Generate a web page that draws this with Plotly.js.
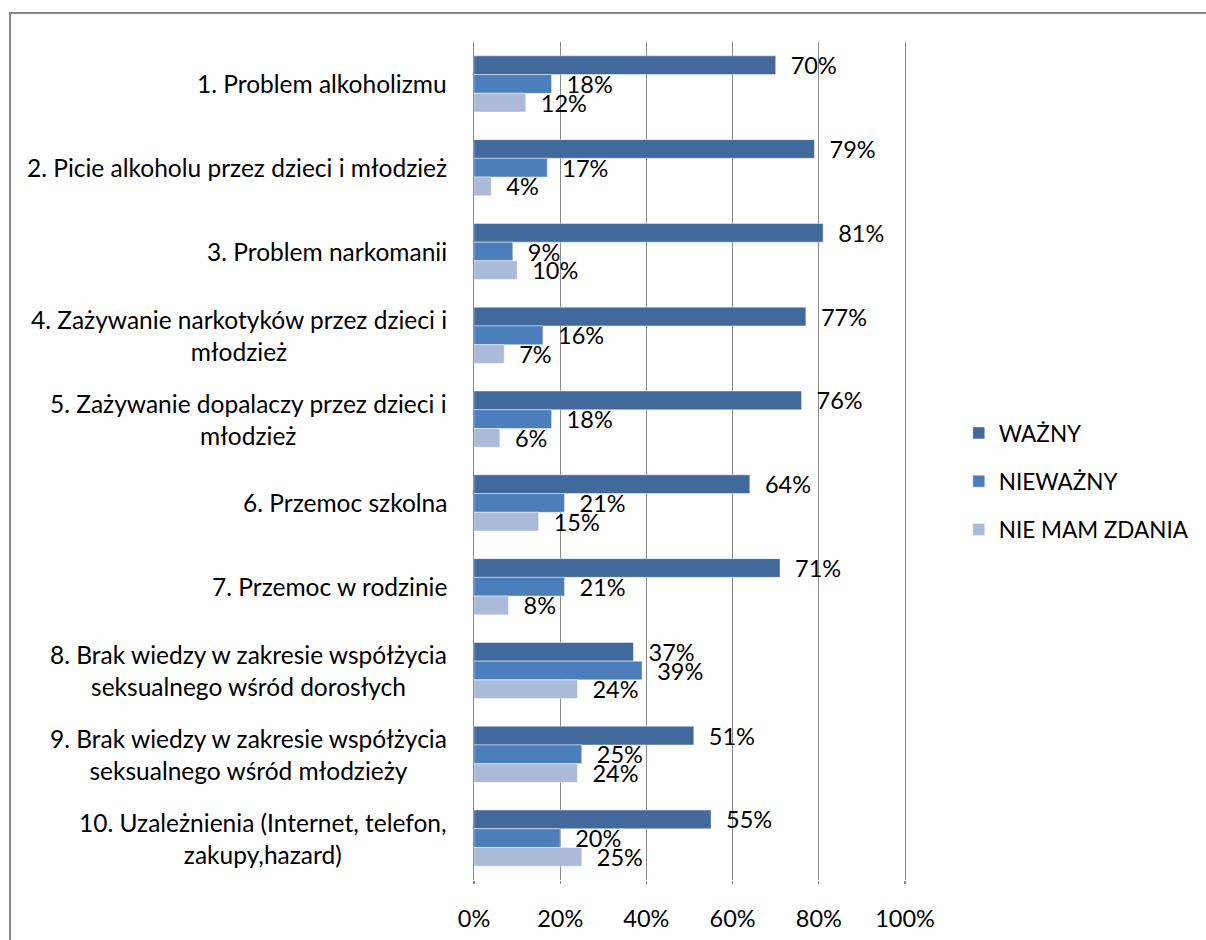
<!DOCTYPE html>
<html>
<head>
<meta charset="utf-8">
<script src="https://cdn.plot.ly/plotly-3.0.1.min.js"></script>
<style>
  html, body { margin: 0; padding: 0; background: #fff; }
  #wrap { position: relative; width: 1206px; height: 940px; overflow: hidden; }
  #frame { position: absolute; left: 9px; top: 12px; width: 1300px; height: 1000px;
           border-left: 2px solid #878787; border-top: 2px solid #878787; }
  #chart { position: absolute; left: 0; top: 0; width: 1206px; height: 940px; }
</style>
</head>
<body>
<div id="wrap"><div id="frame"></div><div id="chart"></div></div>
<script>
const categories = [
  "1. Problem alkoholizmu",
  "2. Picie alkoholu przez dzieci i młodzież",
  "3. Problem narkomanii",
  "4. Zażywanie narkotyków przez dzieci i<br>młodzież",
  "5. Zażywanie dopalaczy przez dzieci i<br>młodzież",
  "6. Przemoc szkolna",
  "7. Przemoc w rodzinie",
  "8. Brak wiedzy w zakresie współżycia<br>seksualnego wśród dorosłych",
  "9. Brak wiedzy w zakresie współżycia<br>seksualnego wśród młodzieży",
  "10. Uzależnienia (Internet, telefon,<br>zakupy,hazard)"
];
const seriesNames = ["WAŻNY", "NIEWAŻNY", "NIE MAM ZDANIA"];
const wazny     = [70, 79, 81, 77, 76, 64, 71, 37, 51, 55];
const niewazny  = [18, 17, 9, 16, 18, 21, 21, 39, 25, 20];
const nieMam    = [12, 4, 10, 7, 6, 15, 8, 24, 24, 25];
const xTickVals = [0, 20, 40, 60, 80, 100];
const xTickText = ["0%", "20%", "40%", "60%", "80%", "100%"];

const colors = ["#41699C", "#4B7EBB", "#AABAD8"];
const FONT = "Lato, 'Open Sans', sans-serif";
const FS = 24.5;
const LFS = 23.5;
const pad = "\u00a0\u00a0";

const yIdx = categories.map((c, i) => i);
const seriesVals = [wazny, niewazny, nieMam];

const traces = seriesVals.map((vals, k) => ({
  type: "bar",
  orientation: "h",
  name: seriesNames[k],
  legendgroup: "g" + k,
  x: vals,
  y: yIdx,
  marker: { color: colors[k], line: { color: "rgba(255,255,255,0.45)", width: 1 } },
  text: vals.map(v => pad + v + "%"),
  textposition: "outside",
  constraintext: "none",
  cliponaxis: false,
  textfont: { family: FONT, size: LFS, color: "#000" },
  hoverinfo: "x+name"
}));

const annotations = categories.map((c, i) => ({
  xref: "paper", yref: "y",
  x: 0, y: i,
  xanchor: "right", yanchor: "middle",
  xshift: -25,
  align: "center",
  showarrow: false,
  text: c,
  font: { family: FONT, size: FS, color: "#000" }
}));

const layout = {
  width: 1206, height: 940,
  margin: { l: 474, r: 301, t: 42, b: 60 },
  paper_bgcolor: "rgba(0,0,0,0)",
  plot_bgcolor: "rgba(0,0,0,0)",
  barmode: "group",
  bargap: 0.33,
  bargroupgap: 0,
  showlegend: true,
  legend: {
    xref: "container", yref: "container",
    x: 0.795, xanchor: "left",
    y: 0.488, yanchor: "middle",
    traceorder: "grouped",
    tracegroupgap: 16,
    font: { family: FONT, size: 22.5, color: "#000" }
  },
  xaxis: {
    range: [0, 100],
    tickvals: xTickVals,
    ticktext: xTickText,
    showgrid: true,
    gridcolor: "#8a8a8a",
    gridwidth: 1.4,
    zeroline: false,
    showline: false,
    ticks: "outside",
    ticklen: 3,
    tickcolor: "#8a8a8a",
    tickwidth: 1.4,
    ticklabelstandoff: 15,
    tickfont: { family: FONT, size: LFS, color: "#000" }
  },
  yaxis: {
    type: "linear",
    range: [9.5, -0.5],
    showticklabels: false,
    showgrid: false,
    zeroline: false,
    showline: true,
    mirror: true,
    linecolor: "#8a8a8a",
    linewidth: 1.4,
    ticks: ""
  },
  annotations: annotations
};

Plotly.newPlot("chart", traces, layout, { displayModeBar: false, staticPlot: true });
</script>
</body>
</html>
